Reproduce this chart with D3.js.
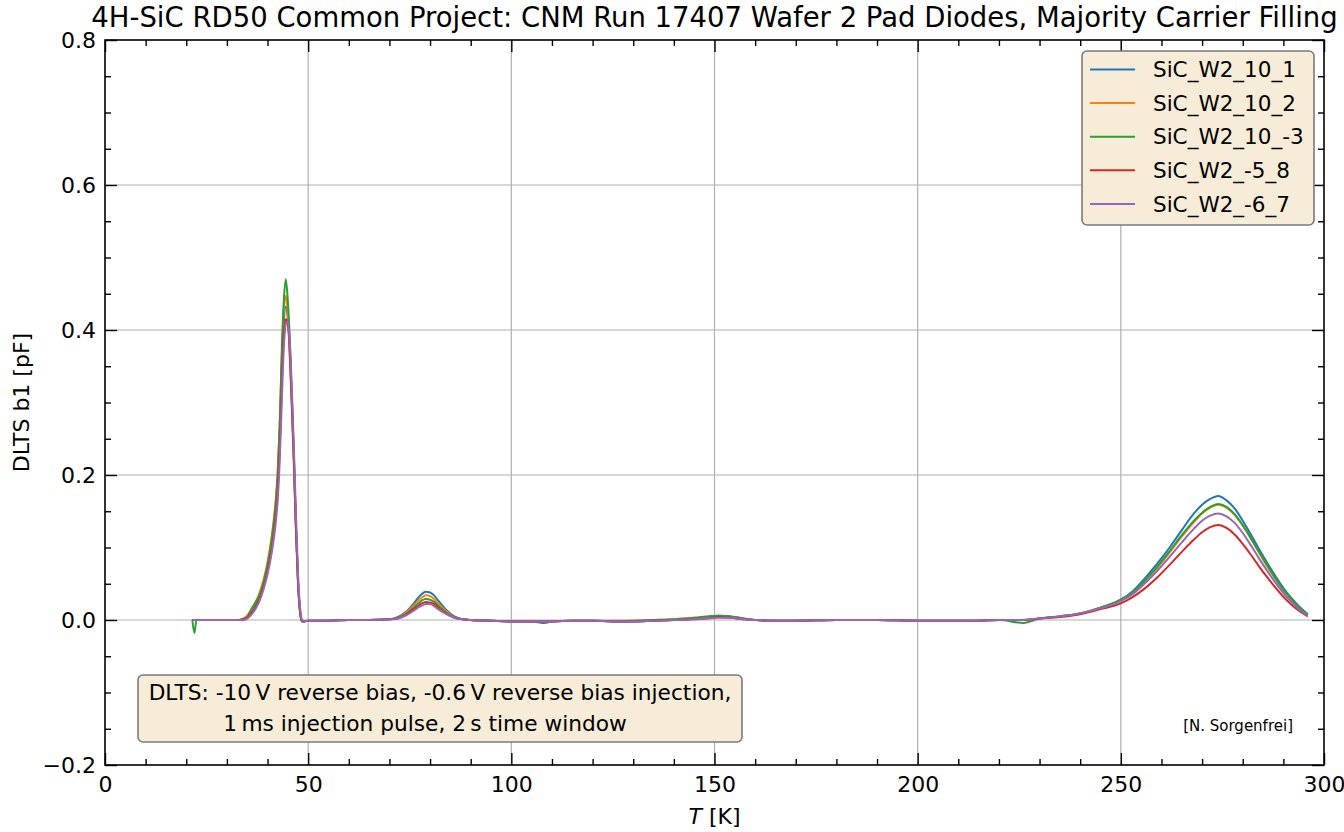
<!DOCTYPE html>
<html>
<head>
<meta charset="utf-8">
<script src="https://cdn.jsdelivr.net/npm/d3@7"></script>
<style>
  html, body { margin: 0; padding: 0; background: #ffffff; }
  svg { display: block; font-family: "DejaVu Sans", sans-serif; }
</style>
</head>
<body>
<svg id="chart" width="1344" height="832"></svg>
<script>
// Temperature grid [K] shared by all scans
const temperature = [
  21.5, 22, 22.5, 23, 26, 30, 33,
  34, 35, 36, 37, 38, 39, 40, 41,
  42, 42.5, 43, 43.5, 44, 44.5, 45, 45.5, 46, 46.5, 47, 47.5, 48, 48.5, 49,
  50, 55, 60, 65, 70,
  72, 74, 76, 77, 78, 79, 80, 81, 82, 84, 86, 88, 90, 95,
  100, 105, 108, 110, 115, 120, 125, 130, 135, 140,
  145, 148, 151, 154, 157, 160, 165, 170,
  180, 190, 200, 210, 215, 220,
  226, 230, 235, 240, 245, 250,
  253, 256, 259, 262, 265, 268, 270, 272, 274, 276, 278, 280,
  282, 284, 286, 288, 290, 292, 294, 296
];

// DLTS b1 signal [pF] for each diode
const sic_w2_10_1 = [
  0, 0, 0, 0, 0, 0, 0,
  0.001, 0.004, 0.011, 0.020, 0.032, 0.050, 0.073, 0.105,
  0.152, 0.190, 0.255, 0.345, 0.410, 0.432, 0.415, 0.365, 0.295, 0.215, 0.125, 0.052, 0.011, -0.002, -0.002,
  -0.001, -0.001, 0, 0, 0.001,
  0.004, 0.011, 0.023, 0.030, 0.036, 0.039, 0.038, 0.034, 0.027, 0.014, 0.005, 0.001, 0, -0.001,
  -0.002, -0.002, -0.004, -0.002, -0.001, -0.001, -0.002, -0.002, -0.001, 0,
  0.002, 0.004, 0.006, 0.005, 0.002, 0, -0.001, -0.001,
  0, 0, -0.001, -0.001, -0.001, 0,
  0, 0.002, 0.005, 0.009, 0.017, 0.028,
  0.040, 0.058, 0.078, 0.100, 0.124, 0.147, 0.159, 0.167, 0.171, 0.165, 0.154, 0.137,
  0.118, 0.098, 0.079, 0.061, 0.044, 0.030, 0.018, 0.008
];
const sic_w2_10_2 = [
  0, 0, 0, 0, 0, 0, 0,
  0.002, 0.006, 0.014, 0.024, 0.037, 0.055, 0.080, 0.115,
  0.165, 0.205, 0.270, 0.360, 0.425, 0.447, 0.420, 0.360, 0.290, 0.210, 0.120, 0.050, 0.010, -0.002, -0.002,
  -0.001, -0.001, 0, 0, 0.001,
  0.003, 0.010, 0.020, 0.026, 0.031, 0.034, 0.033, 0.029, 0.023, 0.012, 0.004, 0.001, 0, -0.001,
  -0.002, -0.002, -0.002, -0.002, -0.001, -0.001, -0.001, -0.001, 0, 0.001,
  0.003, 0.004, 0.005, 0.004, 0.002, 0, -0.001, -0.001,
  0, 0, -0.001, -0.001, -0.001, 0,
  0, 0.002, 0.005, 0.009, 0.017, 0.027,
  0.038, 0.054, 0.072, 0.093, 0.115, 0.135, 0.147, 0.155, 0.159, 0.155, 0.145, 0.130,
  0.112, 0.093, 0.074, 0.057, 0.041, 0.028, 0.016, 0.007
];
const sic_w2_10_m3 = [
  0, -0.018, 0, 0, 0, 0, 0,
  0.001, 0.004, 0.015, 0.024, 0.034, 0.052, 0.076, 0.110,
  0.160, 0.200, 0.270, 0.370, 0.440, 0.470, 0.440, 0.385, 0.305, 0.222, 0.128, 0.054, 0.012, -0.002, -0.002,
  -0.001, -0.001, 0, 0, 0.001,
  0.003, 0.008, 0.017, 0.022, 0.027, 0.029, 0.028, 0.025, 0.020, 0.010, 0.004, 0.001, 0, -0.001,
  -0.002, -0.002, -0.002, -0.002, -0.001, -0.001, -0.002, -0.001, 0, 0.001,
  0.003, 0.005, 0.006, 0.005, 0.002, 0, -0.001, -0.001,
  0, 0, -0.001, -0.001, -0.001, 0,
  -0.004, 0.002, 0.005, 0.009, 0.017, 0.028,
  0.039, 0.055, 0.074, 0.095, 0.117, 0.137, 0.148, 0.156, 0.160, 0.156, 0.146, 0.131,
  0.113, 0.094, 0.076, 0.058, 0.042, 0.029, 0.017, 0.008
];
const sic_w2_m5_8 = [
  0, 0, 0, 0, 0, 0, 0,
  0.001, 0.003, 0.009, 0.017, 0.028, 0.045, 0.067, 0.097,
  0.142, 0.178, 0.237, 0.320, 0.392, 0.415, 0.410, 0.370, 0.300, 0.220, 0.130, 0.055, 0.013, -0.001, -0.002,
  -0.001, -0.001, 0, 0, 0.001,
  0.002, 0.007, 0.015, 0.019, 0.023, 0.025, 0.024, 0.022, 0.017, 0.009, 0.003, 0.001, 0, -0.001,
  -0.002, -0.002, -0.002, -0.002, -0.001, -0.001, -0.002, -0.002, -0.001, 0,
  0.001, 0.002, 0.004, 0.003, 0.001, 0, -0.001, -0.001,
  0, 0, -0.001, -0.001, -0.001, 0,
  0, 0.002, 0.004, 0.008, 0.015, 0.023,
  0.032, 0.044, 0.059, 0.076, 0.094, 0.111, 0.121, 0.128, 0.131, 0.127, 0.118, 0.105,
  0.090, 0.074, 0.059, 0.045, 0.032, 0.021, 0.012, 0.005
];
const sic_w2_m6_7 = [
  0, 0, 0, 0, 0, 0, 0,
  0.000, 0.002, 0.007, 0.015, 0.026, 0.042, 0.063, 0.092,
  0.133, 0.165, 0.220, 0.300, 0.375, 0.408, 0.412, 0.380, 0.315, 0.235, 0.145, 0.065, 0.018, 0.000, -0.002,
  -0.001, -0.001, 0, 0, 0.001,
  0.002, 0.006, 0.013, 0.017, 0.020, 0.022, 0.022, 0.019, 0.015, 0.008, 0.003, 0.001, 0, -0.001,
  -0.002, -0.002, -0.002, -0.002, -0.001, -0.001, -0.002, -0.002, -0.001, 0,
  0.001, 0.002, 0.003, 0.003, 0.001, 0, -0.001, -0.001,
  0, 0, -0.001, -0.001, -0.001, 0,
  0, 0.002, 0.005, 0.009, 0.016, 0.026,
  0.036, 0.051, 0.068, 0.087, 0.107, 0.126, 0.137, 0.144, 0.147, 0.143, 0.134, 0.120,
  0.103, 0.085, 0.068, 0.052, 0.037, 0.025, 0.014, 0.006
];

const seriesNames = ["SiC_W2_10_1", "SiC_W2_10_2", "SiC_W2_10_-3", "SiC_W2_-5_8", "SiC_W2_-6_7"];
const seriesValues = [sic_w2_10_1, sic_w2_10_2, sic_w2_10_m3, sic_w2_m5_8, sic_w2_m6_7];
const seriesColors = ["#1f77b4", "#ff7f0e", "#2ca02c", "#d62728", "#9467bd"];

const xMajorTicks = [0, 50, 100, 150, 200, 250, 300];
const yMajorTicks = [-0.2, 0.0, 0.2, 0.4, 0.6, 0.8];

const titleText = "4H-SiC RD50 Common Project: CNM Run 17407 Wafer 2 Pad Diodes, Majority Carrier Filling";
const noteLines = [
  "DLTS: -10\u2009V reverse bias, -0.6\u2009V reverse bias injection,",
  "1\u2009ms injection pulse, 2\u2009s time window"
];
const creditText = "[N. Sorgenfrei]";

// ---- layout ----
const plot = { left: 105, right: 1324, top: 40, bottom: 765 };
const FONT = 22;
const svg = d3.select("#chart");

const x = d3.scaleLinear().domain([0, 300]).range([plot.left, plot.right]);
const y = d3.scaleLinear().domain([-0.2, 0.8]).range([plot.bottom, plot.top]);

const xMinor = d3.range(0, 301, 10).filter(v => v % 50 !== 0);
const yMinor = d3.range(-0.2, 0.8001, 0.05).filter(v => Math.abs(Math.round(v * 5) - v * 5) > 1e-6);

// grid
const grid = svg.append("g").attr("stroke", "#b0b0b0").attr("stroke-width", 1.2);
grid.selectAll(".gx").data(xMajorTicks.slice(1, -1)).enter().append("line")
  .attr("x1", d => x(d)).attr("x2", d => x(d)).attr("y1", plot.top).attr("y2", plot.bottom);
grid.selectAll(".gy").data(yMajorTicks.slice(1, -1)).enter().append("line")
  .attr("y1", d => y(d)).attr("y2", d => y(d)).attr("x1", plot.left).attr("x2", plot.right);

// curves
svg.append("clipPath").attr("id", "plotclip").append("rect")
  .attr("x", plot.left).attr("y", plot.top)
  .attr("width", plot.right - plot.left).attr("height", plot.bottom - plot.top);

const line = d3.line()
  .x(d => x(d[0])).y(d => y(d[1]))
  .curve(d3.curveMonotoneX);

const curves = svg.append("g").attr("clip-path", "url(#plotclip)");
seriesValues.forEach((vals, i) => {
  curves.append("path")
    .datum(temperature.map((t, k) => [t, vals[k]]))
    .attr("fill", "none")
    .attr("stroke", seriesColors[i])
    .attr("stroke-width", 2)
    .attr("stroke-linejoin", "round")
    .attr("d", line);
});

// axes with inward ticks on all four sides
function drawAxis(axisGen, transform, cls) {
  return svg.append("g").attr("class", cls).attr("transform", transform).call(axisGen);
}
const fmtX = d3.format("d");
const fmtY = v => (v < 0 ? "\u2212" : "") + Math.abs(v).toFixed(1);

drawAxis(d3.axisBottom(x).tickValues(xMajorTicks).tickFormat(fmtX).tickSizeInner(-12).tickSizeOuter(0).tickPadding(11),
  `translate(0,${plot.bottom})`, "ax-bottom");
drawAxis(d3.axisLeft(y).tickValues(yMajorTicks).tickFormat(fmtY).tickSizeInner(-12).tickSizeOuter(0).tickPadding(9),
  `translate(${plot.left},0)`, "ax-left");
drawAxis(d3.axisTop(x).tickValues(xMajorTicks).tickFormat("").tickSizeInner(-12).tickSizeOuter(0),
  `translate(0,${plot.top})`, "ax-top");
drawAxis(d3.axisRight(y).tickValues(yMajorTicks).tickFormat("").tickSizeInner(-12).tickSizeOuter(0),
  `translate(${plot.right},0)`, "ax-right");

drawAxis(d3.axisBottom(x).tickValues(xMinor).tickFormat("").tickSizeInner(-6).tickSizeOuter(0), `translate(0,${plot.bottom})`, "mn");
drawAxis(d3.axisTop(x).tickValues(xMinor).tickFormat("").tickSizeInner(-6).tickSizeOuter(0), `translate(0,${plot.top})`, "mn");
drawAxis(d3.axisLeft(y).tickValues(yMinor).tickFormat("").tickSizeInner(-6).tickSizeOuter(0), `translate(${plot.left},0)`, "mn");
drawAxis(d3.axisRight(y).tickValues(yMinor).tickFormat("").tickSizeInner(-6).tickSizeOuter(0), `translate(${plot.right},0)`, "mn");

svg.selectAll(".domain").remove();
svg.selectAll(".tick line").attr("stroke", "#000").attr("stroke-width", 1.4);
svg.selectAll(".tick text").attr("fill", "#000").attr("font-size", FONT).attr("font-family", "DejaVu Sans, sans-serif");

// frame
svg.append("rect")
  .attr("x", plot.left).attr("y", plot.top)
  .attr("width", plot.right - plot.left).attr("height", plot.bottom - plot.top)
  .attr("fill", "none").attr("stroke", "#000").attr("stroke-width", 1.6);

// title
const title = svg.append("text")
  .attr("x", (plot.left + plot.right) / 2).attr("y", 27)
  .attr("text-anchor", "middle").attr("font-size", 23).attr("fill", "#000")
  .text(titleText);
const tw = title.node().getComputedTextLength();
title.attr("font-size", 23 * 1247 / tw);

// axis labels
const xl = svg.append("text")
  .attr("x", (plot.left + plot.right) / 2).attr("y", 824)
  .attr("text-anchor", "middle").attr("font-size", FONT).attr("fill", "#000");
xl.append("tspan").attr("font-style", "italic").text("T");
xl.append("tspan").text(" [K]");

svg.append("text")
  .attr("transform", `translate(29,${(plot.top + plot.bottom) / 2}) rotate(-90)`)
  .attr("text-anchor", "middle").attr("font-size", FONT).attr("fill", "#000")
  .text("DLTS b1 [pF]");

// legend
const legend = svg.append("g");
legend.append("rect")
  .attr("x", 1082).attr("y", 51).attr("width", 232).attr("height", 174)
  .attr("rx", 5).attr("ry", 5)
  .attr("fill", "#f7ecd7")
  .attr("stroke", "#7a7a7a").attr("stroke-width", 1.6);
seriesNames.forEach((name, i) => {
  const cy = 69.5 + i * 33.6;
  legend.append("line")
    .attr("x1", 1090).attr("x2", 1135).attr("y1", cy).attr("y2", cy)
    .attr("stroke", seriesColors[i]).attr("stroke-width", 2);
  legend.append("text")
    .attr("x", 1153).attr("y", cy).attr("dy", "0.36em")
    .attr("font-size", FONT - 0.5).attr("fill", "#000")
    .text(name);
});

// measurement note box
const note = svg.append("g");
note.append("rect")
  .attr("x", 138).attr("y", 675).attr("width", 604).attr("height", 67)
  .attr("rx", 5).attr("ry", 5)
  .attr("fill", "#f7ecd7").attr("stroke", "#7a7a7a").attr("stroke-width", 1.6);
note.append("text")
  .attr("x", 440).attr("y", 700).attr("text-anchor", "middle")
  .attr("font-size", FONT - 0.3).attr("fill", "#000").text(noteLines[0]);
note.append("text")
  .attr("x", 425).attr("y", 731).attr("text-anchor", "middle")
  .attr("font-size", FONT - 0.3).attr("fill", "#000").text(noteLines[1]);

// credit
svg.append("text")
  .attr("x", 1293).attr("y", 731).attr("text-anchor", "end")
  .attr("font-size", 15).attr("fill", "#000").text(creditText);
</script>
</body>
</html>
